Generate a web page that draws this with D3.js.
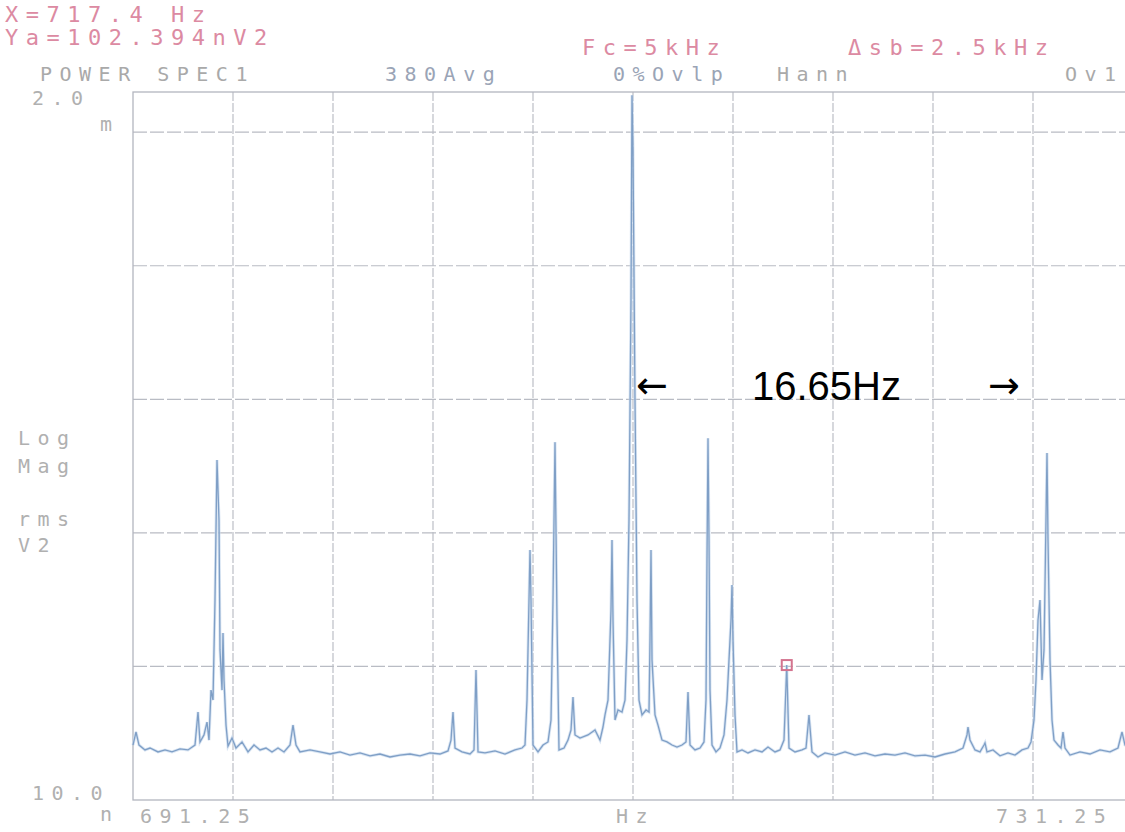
<!DOCTYPE html>
<html>
<head>
<meta charset="utf-8">
<script src="https://cdnjs.cloudflare.com/ajax/libs/d3/7.8.5/d3.min.js"></script>
<style>
  body { margin:0; background:#ffffff; }
  svg { display:block; }
</style>
</head>
<body>
<svg id="chart"></svg>
<script>

// frequency span of the analyzer (Hz)
var spanHz = [691.25, 731.25];
// log magnitude range (V2)
var levelRange = [10.0e-9, 2.0e-3];

// grid positions
var gridHz = [695.25, 699.25, 703.25, 707.25, 711.25, 715.25, 719.25, 723.25, 727.25];
var gridV2 = [1e-7, 1e-6, 1e-5, 1e-4, 1e-3];

// marker readout
var markerHz = 717.4;
var markerNV2 = 102.394;

// spectrum trace, [Hz, nV2]
var trace = [
  [691.25,25.8],[691.37,32.3],[691.49,25.8],[691.73,23.7],[691.93,24.5],[692.25,22.9],[692.53,23.7],
  [692.81,22.9],[693.13,24.1],[693.45,23.7],[693.73,25.8],[693.85,45.6],[693.93,27.2],[694.09,30.7],
  [694.21,38.3],[694.29,28.1],[694.37,66.5],[694.45,56.0],[694.53,314],[694.61,3510],[694.69,1247],
  [694.73,133],[694.81,66.5],[694.85,178],[694.89,79.1],[694.97,36.4],[695.05,25.3],[695.21,29.1],
  [695.37,24.5],[695.61,27.2],[695.85,22.9],[696.09,25.8],[696.33,23.7],[696.57,24.5],[696.81,22.9],
  [697.05,24.5],[697.29,22.9],[697.53,25.8],[697.65,36.4],[697.77,25.8],[697.93,22.9],[698.33,23.7],
  [698.73,22.9],[699.13,22.1],[699.53,22.9],[699.93,21.7],[700.33,22.5],[700.73,21.4],[701.13,22.1],
  [701.53,21.0],[701.93,21.7],[702.33,22.1],[702.73,21.4],[703.13,22.5],[703.53,22.1],[703.85,23.3],
  [703.97,28.1],[704.05,45.6],[704.13,24.5],[704.41,22.9],[704.73,22.1],[704.89,23.7],[704.97,94.0],
  [705.05,22.9],[705.33,22.5],[705.73,23.3],[706.13,22.1],[706.53,23.7],[706.81,24.5],[706.93,25.8],
  [707.01,56.0],[707.09,314],[707.13,743],[707.17,314],[707.25,25.8],[707.45,22.9],[707.65,25.8],
  [707.85,27.2],[707.97,39.7],[708.05,314],[708.13,4780],[708.21,222],[708.29,23.7],[708.49,24.5],
  [708.65,28.1],[708.77,33.4],[708.85,59.0],[708.93,30.7],[709.13,29.1],[709.45,30.7],[709.73,33.4],
  [709.93,28.1],[710.05,35.2],[710.13,43.3],[710.25,56.0],[710.37,264],[710.41,883],[710.45,222],
  [710.53,39.7],[710.65,47.2],[710.81,45.6],[710.93,56.0],[711.01,158],[711.09,1247],[711.17,55300],
  [711.21,1890000],[711.25,733000],[711.33,9860],[711.41,314],[711.49,56.0],[711.61,43.3],[711.77,47.2],
  [711.89,45.6],[711.93,158],[711.97,743],[712.01,112],[712.13,43.3],[712.25,36.4],[712.41,28.1],
  [712.61,27.2],[712.81,25.8],[713.01,24.9],[713.21,25.8],[713.37,27.2],[713.45,64.3],[713.53,25.8],
  [713.73,23.7],[713.93,24.5],[714.09,27.2],[714.17,56.0],[714.21,625],[714.25,5120],[714.29,883],
  [714.33,66.5],[714.41,25.8],[714.57,22.9],[714.73,24.5],[714.89,30.7],[715.01,56.0],[715.09,112],
  [715.17,222],[715.21,407],[715.25,158],[715.33,43.3],[715.41,22.9],[715.61,23.7],[715.85,22.5],
  [716.13,23.7],[716.41,22.9],[716.65,24.9],[716.93,22.9],[717.13,23.7],[717.29,28.1],[717.40,102.4],
  [717.49,24.5],[717.73,22.9],[718.01,23.7],[718.17,24.5],[718.29,43.3],[718.41,22.9],[718.65,21.0],
  [718.93,22.5],[719.33,21.7],[719.73,22.9],[720.13,21.7],[720.53,22.5],[720.93,21.4],[721.33,22.1],
  [721.73,21.7],[722.13,22.5],[722.53,21.4],[722.93,21.7],[723.33,21.0],[723.73,22.1],[724.13,22.9],
  [724.45,24.5],[724.61,30.7],[724.65,35.2],[724.73,28.1],[724.93,23.7],[725.13,22.9],[725.29,25.8],
  [725.33,26.7],[725.41,22.9],[725.65,23.7],[725.93,21.4],[726.25,22.5],[726.53,21.7],[726.81,23.7],
  [727.05,24.5],[727.17,27.2],[727.29,39.7],[727.37,79.1],[727.45,222],[727.53,314],[727.61,79.1],
  [727.69,133],[727.77,1247],[727.81,3960],[727.85,883],[727.93,112],[728.01,39.7],[728.09,28.1],
  [728.25,25.8],[728.37,24.5],[728.45,32.3],[728.53,24.5],[728.73,21.7],[729.13,22.9],[729.53,22.1],
  [729.93,23.7],[730.33,22.9],[730.65,24.5],[730.81,32.3],[730.93,25.8],[731.25,23.7]
];

// header readouts
var headerPink = [
  {text:"X=717.4 Hz", x:5, y:22},
  {text:"Ya=102.394nV2", x:5, y:45},
  {text:"Fc=5kHz", x:582, y:55},
  {text:"\u0394sb=2.5kHz", x:848, y:55}
];
var headerGrey = [
  {text:"POWER SPEC1", x:40, y:81, c:"#a9a9a9"},
  {text:"380Avg", x:385, y:81, c:"#9aa4b6"},
  {text:"0%Ovlp", x:613, y:81, c:"#9aa4b6"},
  {text:"Hann", x:777, y:81, c:"#a9a9a9"},
  {text:"Ov1", x:1065, y:81, c:"#a9a9a9"}
];
var axisText = [
  {text:"2.0", x:32, y:105},
  {text:"m", x:100, y:131},
  {text:"Log", x:18, y:445},
  {text:"Mag", x:18, y:473},
  {text:"rms", x:18, y:526},
  {text:"V2", x:18, y:552},
  {text:"10.0", x:32, y:800},
  {text:"n", x:100, y:821},
  {text:"691.25", x:140, y:823},
  {text:"Hz", x:616, y:823},
  {text:"731.25", x:996, y:823}
];

var width = 1125, height = 832;
var plotLeft = 133, plotRight = 1133, plotTop = 92, plotBottom = 800;

var svg = d3.select("#chart")
    .attr("width", width)
    .attr("height", height);

svg.append("rect")
    .attr("width", width)
    .attr("height", height)
    .attr("fill", "#ffffff");

//Define Scales
var xScale = d3.scaleLinear()
    .domain(spanHz)
    .range([plotLeft, plotRight]);

var yScale = d3.scaleLog()
    .domain(levelRange)
    .range([plotBottom, plotTop]);

//grid
svg.selectAll("line.vgrid")
    .data(gridHz)
    .enter()
    .append("line")
    .attr("class","vgrid")
    .attr("x1", function(d){ return xScale(d); })
    .attr("x2", function(d){ return xScale(d); })
    .attr("y1", plotTop)
    .attr("y2", plotBottom)
    .style("stroke", "#bcbfc6")
    .style("stroke-width", "1.2px")
    .style("stroke-dasharray", "9,2");

svg.selectAll("line.hgrid")
    .data(gridV2)
    .enter()
    .append("line")
    .attr("class","hgrid")
    .attr("x1", plotLeft)
    .attr("x2", plotRight)
    .attr("y1", function(d){ return yScale(d); })
    .attr("y2", function(d){ return yScale(d); })
    .style("stroke", "#b9bcc4")
    .style("stroke-width", "1.2px")
    .style("stroke-dasharray", "14,3");

//frame
svg.append("rect")
    .attr("x", plotLeft)
    .attr("y", plotTop)
    .attr("width", plotRight - plotLeft)
    .attr("height", plotBottom - plotTop)
    .style("fill", "none")
    .style("stroke", "#b3b6bf")
    .style("stroke-width", "1.3px");

//spectrum trace
var line = d3.line()
    .x(function(d){ return xScale(d[0]); })
    .y(function(d){ return yScale(d[1] * 1e-9); })
    .curve(d3.curveLinear);

svg.append("path")
    .datum(trace)
    .attr("d", line)
    .style("fill", "none")
    .style("stroke", "#c9daee")
    .style("stroke-width", "3px")
    .style("opacity", 0.7);

svg.append("path")
    .datum(trace)
    .attr("d", line)
    .style("fill", "none")
    .style("stroke", "#7f9fc6")
    .style("stroke-width", "1.3px");

//marker
svg.append("rect")
    .attr("x", xScale(markerHz) - 5)
    .attr("y", yScale(markerNV2 * 1e-9) - 5)
    .attr("width", 10)
    .attr("height", 10)
    .style("fill", "none")
    .style("stroke", "#d4748f")
    .style("stroke-width", "2px");

//analyzer text
var monoFont = "'DejaVu Sans Mono', 'Liberation Mono', monospace";

svg.selectAll("text.pink")
    .data(headerPink)
    .enter()
    .append("text")
    .attr("class","pink")
    .attr("x", function(d){ return d.x; })
    .attr("y", function(d){ return d.y; })
    .style("font-family", monoFont)
    .style("font-size", "22px")
    .style("letter-spacing", "7.5px")
    .style("fill", "#dc8aa2")
    .text(function(d){ return d.text; });

svg.selectAll("text.grey")
    .data(headerGrey)
    .enter()
    .append("text")
    .attr("class","grey")
    .attr("x", function(d){ return d.x; })
    .attr("y", function(d){ return d.y; })
    .style("font-family", monoFont)
    .style("font-size", "20px")
    .style("letter-spacing", "7.5px")
    .style("fill", function(d){ return d.c; })
    .text(function(d){ return d.text; });

svg.selectAll("text.axis")
    .data(axisText)
    .enter()
    .append("text")
    .attr("class","axis")
    .attr("x", function(d){ return d.x; })
    .attr("y", function(d){ return d.y; })
    .style("font-family", monoFont)
    .style("font-size", "20px")
    .style("letter-spacing", "7.5px")
    .style("fill", "#b0b0b0")
    .text(function(d){ return d.text; });

//spacing annotation
var annoFont = "'Liberation Sans', Arial, sans-serif";
var arrowFont = "'DejaVu Sans', sans-serif";

svg.append("text")
    .attr("x", 636)
    .attr("y", 398)
    .style("font-family", arrowFont)
    .style("font-size", "38px")
    .style("fill", "#000000")
    .text("\u2190");

svg.append("text")
    .attr("x", 752)
    .attr("y", 400)
    .style("font-family", annoFont)
    .style("font-size", "40px")
    .style("fill", "#000000")
    .text("16.65Hz");

svg.append("text")
    .attr("x", 988)
    .attr("y", 398)
    .style("font-family", arrowFont)
    .style("font-size", "38px")
    .style("fill", "#000000")
    .text("\u2192");

</script>
</body>
</html>
